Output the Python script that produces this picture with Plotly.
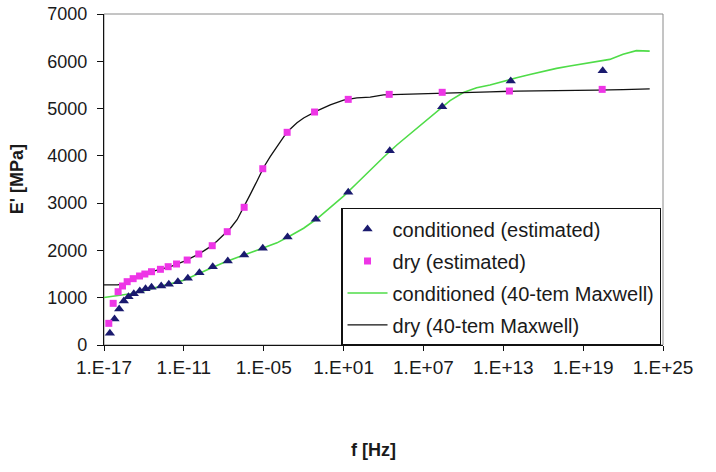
import plotly.graph_objects as go

# ---- data: frequencies given as log10(f [Hz]), storage modulus E' in MPa ----
cond_est_logf = [-16.56, -16.21, -15.86, -15.51, -15.16, -14.76, -14.31, -13.88,
                 -13.43, -12.70, -12.13, -11.45, -10.70, -9.83, -8.83, -7.70,
                 -6.47, -5.07, -3.21, -1.08, 1.35, 4.47, 8.41, 13.56, 20.47]
cond_est_E = [247, 550, 761, 930, 1021, 1085, 1142, 1191,
              1220, 1248, 1283, 1339, 1410, 1529, 1656, 1776,
              1903, 2045, 2284, 2658, 3229, 4109, 5039, 5583, 5800]

dry_est_logf = [-16.64, -16.31, -15.94, -15.61, -15.26, -14.81, -14.33, -13.93,
                -13.43, -12.76, -12.18, -11.55, -10.75, -9.88, -8.87, -7.74,
                -6.47, -5.07, -3.24, -1.18, 1.35, 4.43, 8.41, 13.46, 20.43]
dry_est_E = [458, 881, 1127, 1248, 1339, 1403, 1459, 1501,
             1550, 1601, 1656, 1713, 1797, 1924, 2100, 2396,
             2912, 3728, 4498, 4927, 5195, 5301, 5344, 5371, 5406]

cond_fit_logf = [-17, -16, -15, -14, -13, -12, -11, -10, -9, -8, -7, -6, -5, -4,
                 -3, -2, -1, 0, 1, 2, 3, 4, 5, 6, 7, 8, 9, 10, 11, 12, 13, 14,
                 15, 16, 17, 18, 19, 20, 21, 22, 23, 24]
cond_fit_E = [1005, 1040, 1085, 1150, 1220, 1290, 1370, 1495, 1625, 1745, 1850,
              1950, 2045, 2160, 2310, 2470, 2670, 2900, 3150, 3420, 3700, 3970,
              4230, 4470, 4710, 4940, 5170, 5340, 5440, 5500, 5580, 5650, 5720,
              5790, 5850, 5900, 5950, 5995, 6040, 6150, 6225, 6215]

dry_fit_logf = [-17, -16, -15.5, -15, -14.5, -14, -13.5, -13, -12, -11, -10,
                -9.5, -9, -8.5, -8, -7.5, -7, -6.5, -6, -5.5, -5, -4.5, -4,
                -3.5, -3, -2.5, -2, -1.5, -1, 0, 1, 2, 3, 4, 5, 6, 8, 10, 12,
                14, 16, 18, 20, 22, 23, 24]
dry_fit_E = [1270, 1272, 1290, 1375, 1440, 1495, 1545, 1585, 1660, 1770, 1905,
             1990, 2080, 2200, 2330, 2470, 2650, 2910, 3190, 3470, 3760, 3990,
             4200, 4400, 4570, 4700, 4800, 4880, 4950, 5080, 5180, 5225, 5240,
             5290, 5300, 5310, 5330, 5345, 5355, 5370, 5372, 5380, 5390, 5400,
             5400, 5415]

x_tick_exp = [-17, -11, -5, 1, 7, 13, 19, 25]
x_tick_text = ["1.E-17", "1.E-11", "1.E-05", "1.E+01", "1.E+07", "1.E+13",
               "1.E+19", "1.E+25"]


def hz(exps):
    return [10.0 ** e for e in exps]


FONT = "Liberation Sans, Arial, sans-serif"
INK = "#1a1a1a"

fig = go.Figure()

# fitted curves first so the estimated points sit on top of them
fig.add_trace(go.Scatter(
    x=hz(cond_fit_logf), y=cond_fit_E, mode="lines",
    name="conditioned (40-tem Maxwell)", legendgroup="c", legendrank=3,
    line=dict(color="#4fdc48", width=1.6),
))
fig.add_trace(go.Scatter(
    x=hz(dry_fit_logf), y=dry_fit_E, mode="lines",
    name="dry (40-tem Maxwell)", legendgroup="d", legendrank=4,
    line=dict(color="#111111", width=1.3),
))
fig.add_trace(go.Scatter(
    x=hz(cond_est_logf), y=cond_est_E, mode="markers",
    name="conditioned (estimated)", legendgroup="a", legendrank=1,
    marker=dict(symbol="triangle-up", size=9, color="#1a1a6e"),
))
fig.add_trace(go.Scatter(
    x=hz(dry_est_logf), y=dry_est_E, mode="markers",
    name="dry (estimated)", legendgroup="b", legendrank=2,
    marker=dict(symbol="square", size=7, color="#ee35e6"),
))

fig.update_layout(
    width=716, height=472,
    margin=dict(l=104, r=53, t=14, b=127, autoexpand=False),
    paper_bgcolor="white", plot_bgcolor="white",
    font=dict(family=FONT, size=19, color=INK),
    showlegend=True,
    legend=dict(
        x=0.424, y=0.414, xanchor="left", yanchor="top",
        bgcolor="white", bordercolor="#111111", borderwidth=1.5,
        font=dict(family=FONT, size=20, color=INK),
        traceorder="grouped", tracegroupgap=3, itemwidth=40,
    ),
    shapes=[dict(type="rect", xref="paper", yref="paper", x0=0, x1=1, y0=0, y1=1,
                 line=dict(color="#8a8a8a", width=1), layer="below")],
    annotations=[
        dict(text="<b>E' [MPa]</b>", xref="paper", yref="paper",
             x=-0.156, y=0.5, xanchor="center", yanchor="middle",
             textangle=-90, showarrow=False,
             font=dict(family=FONT, size=18, color=INK)),
        dict(text="<b>f [Hz]</b>", xref="paper", yref="paper",
             x=0.483, y=-0.317, xanchor="center", yanchor="middle",
             showarrow=False,
             font=dict(family=FONT, size=18, color=INK)),
    ],
)

fig.update_xaxes(
    type="log", range=[-17, 25], automargin=False,
    tickvals=hz(x_tick_exp), ticktext=x_tick_text,
    showline=True, linecolor="#111111", linewidth=1.3,
    ticks="outside", ticklen=5, tickcolor="#111111",
    showgrid=False, zeroline=False,
    tickfont=dict(size=19),
)
fig.update_yaxes(
    range=[0, 7000], dtick=1000, automargin=False,
    showline=True, linecolor="#111111", linewidth=1.3,
    ticks="outside", ticklen=6, tickcolor="#111111",
    showgrid=False, zeroline=False, ticklabelstandoff=6,
    tickfont=dict(size=18),
)

fig.write_html("out.html")
